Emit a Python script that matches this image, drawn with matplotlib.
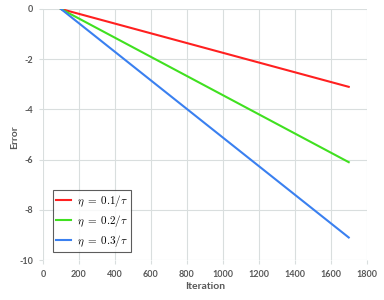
import matplotlib
matplotlib.use("Agg")
import matplotlib.pyplot as plt

# data ─────────────────────────────────────────────
iterations = [100, 1700]
err_01 = [0.0, -3.1]
err_02 = [0.0, -6.1]
err_03 = [0.0, -9.1]
labels = [r"$\eta\;=\;0.1/\tau$", r"$\eta\;=\;0.2/\tau$", r"$\eta\;=\;0.3/\tau$"]
colors = ["#ff2020", "#40e020", "#3a80f0"]

x_ticks = list(range(0, 1801, 200))
y_ticks = list(range(-10, 1, 2))

# ─────────────────────────────────────────────
plt.rcParams["mathtext.fontset"] = "cm"
plt.rcParams["axes.unicode_minus"] = False
plt.rcParams["font.family"] = ["Lato", "DejaVu Sans"]
TXT = "#595959"
GRID = "#d9dede"

fig = plt.figure(figsize=(3.84, 3.00), dpi=100)
ax = fig.add_axes([0.112, 0.133, 0.843, 0.837])

for ys, c, lab in zip([err_01, err_02, err_03], colors, labels):
    ax.plot(iterations, ys, color=c, lw=1.5, label=lab)

ax.set_xlim(0, 1800)
ax.set_ylim(-10, 0)
ax.set_xticks(x_ticks)
ax.set_yticks(y_ticks)
ax.grid(True, color=GRID, lw=0.8)
ax.set_axisbelow(True)
for s in ax.spines.values():
    s.set_visible(False)
ax.tick_params(length=3, color=GRID, labelsize=6.5, labelcolor=TXT, pad=4)
for t in ax.get_xticklabels() + ax.get_yticklabels():
    t.set_fontweight("bold")

ax.set_xlabel("Iteration", fontsize=7.5, fontweight="bold", color=TXT, labelpad=2)
ax.set_ylabel("Error", fontsize=7.5, fontweight="bold", color=TXT)
ax.yaxis.set_label_coords(-0.075, 0.49)

leg = ax.legend(loc="lower left", bbox_to_anchor=(0.031, 0.032), borderaxespad=0,
                fontsize=8, frameon=True, fancybox=False, edgecolor="#333333",
                handlelength=1.35, handletextpad=0.5, borderpad=0.3, labelspacing=0.35)
leg.get_frame().set_linewidth(0.8)

fig.savefig("out.png", dpi=100)
